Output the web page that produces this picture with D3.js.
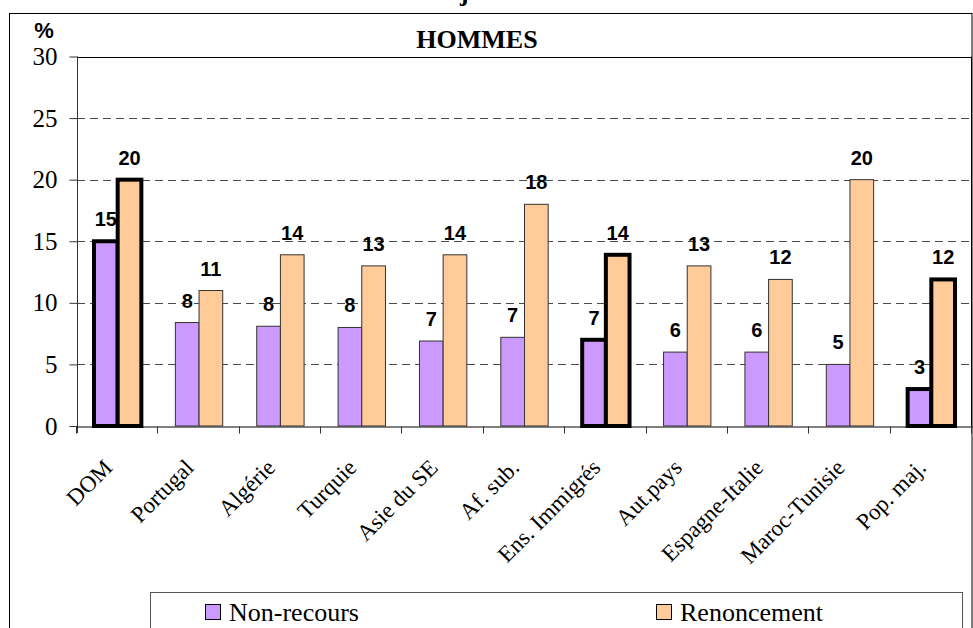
<!DOCTYPE html>
<html>
<head>
<meta charset="utf-8">
<script src="https://cdn.jsdelivr.net/npm/d3@7"></script>
<style>
  html, body { margin: 0; padding: 0; background: #fff; }
  svg { display: block; }
</style>
</head>
<body>
<svg id="chart" width="973" height="628"></svg>
<script>
const categories = ["DOM", "Portugal", "Algérie", "Turquie", "Asie du SE", "Af. sub.", "Ens. Immigrés", "Aut.pays", "Espagne-Italie", "Maroc-Tunisie", "Pop. maj."];
const nonRecours = [15, 8.4, 8.1, 8.0, 6.9, 7.2, 7.0, 6.0, 6.0, 5.0, 3.0];
const renoncement = [20, 11, 13.9, 13, 13.9, 18, 13.9, 13, 11.9, 20, 11.9];
const labelsNonRecours = ["15", "8", "8", "8", "7", "7", "7", "6", "6", "5", "3"];
const labelsRenoncement = ["20", "11", "14", "13", "14", "18", "14", "13", "12", "20", "12"];
const highlighted = ["DOM", "Ens. Immigrés", "Pop. maj."];
const yTicks = [0, 5, 10, 15, 20, 25, 30];
const seriesNames = ["Non-recours", "Renoncement"];
const seriesColors = ["#CC99FF", "#FFCC99"];
const chartTitle = "HOMMES";
const unitLabel = "%";

const SERIF = "'Liberation Serif', 'Times New Roman', serif";
const SANS = "'Liberation Sans', Arial, sans-serif";

const svg = d3.select("#chart");
const plot = { left: 77, right: 972, top: 56.5, bottom: 426 };

// fragment of a heading above the frame (only its descender is visible)
svg.append("text")
  .attr("x", 460).attr("y", 1)
  .style("font-family", SERIF)
  .attr("font-weight", "bold")
  .style("font-size", "26px")
  .text("j");

// outer frame
svg.append("rect")
  .attr("x", 9.5).attr("y", 13.5)
  .attr("width", 962.5).attr("height", 640)
  .attr("fill", "none").attr("stroke", "#000").attr("stroke-width", 1);

const x = d3.scaleBand().domain(categories).range([plot.left, plot.right]).padding(0);
const y = d3.scaleLinear().domain([0, 30]).range([plot.bottom, plot.top]);
const barW = x.bandwidth() * 0.291;
const inner = d3.scaleBand().domain(seriesNames).range([0, 2 * barW]);
const groupOffset = (x.bandwidth() - 2 * barW) / 2;

// gridlines
svg.append("g").selectAll("line")
  .data(yTicks.filter(t => t > 0 && t < 30))
  .join("line")
  .attr("x1", plot.left).attr("x2", plot.right)
  .attr("y1", d => Math.round(y(d)) + 0.5).attr("y2", d => Math.round(y(d)) + 0.5)
  .attr("stroke", "#4a4a4a").attr("stroke-width", 1)
  .attr("stroke-dasharray", "8,5");

// plot top and right border
svg.append("line")
  .attr("x1", plot.left).attr("x2", plot.right)
  .attr("y1", Math.round(y(30)) + 0.5).attr("y2", Math.round(y(30)) + 0.5)
  .attr("stroke", "#000");
svg.append("line")
  .attr("x1", plot.right - 0.5).attr("x2", plot.right - 0.5)
  .attr("y1", y(30)).attr("y2", y(0))
  .attr("stroke", "#000");

// y axis
const yAxis = d3.axisLeft(y).tickValues(yTicks).tickSize(8).tickPadding(12).tickFormat(d3.format("d"));
const gy = svg.append("g").attr("transform", `translate(${plot.left + 0.5},0)`).call(yAxis);
gy.attr("font-family", null).attr("font-size", null);
gy.select(".domain").attr("d", `M0,${y(30)}V${y(0) + 7}`).attr("stroke", "#333");
gy.selectAll(".tick line").attr("stroke", "#333");
gy.selectAll(".tick text")
  .style("font-family", SERIF)
  .style("font-size", "25px")
  .attr("fill", "#000");

// x axis
const xAxis = d3.axisBottom(x).tickSize(0).tickFormat("");
const gx = svg.append("g").attr("transform", `translate(0,${Math.round(plot.bottom) + 0.5})`).call(xAxis);
gx.select(".domain").attr("stroke", "#000");
gx.selectAll(".tick").remove();
const boundaries = categories.map(c => x(c)).concat([plot.right]);
gx.selectAll("line.bt").data(boundaries).join("line")
  .attr("class", "bt")
  .attr("x1", d => Math.round(d) - 0.5).attr("x2", d => Math.round(d) - 0.5)
  .attr("y1", 0).attr("y2", 7).attr("stroke", "#333");

// x labels
svg.append("g").selectAll("text")
  .data(categories)
  .join("text")
  .attr("transform", d => `translate(${x(d) + x.bandwidth() / 2 - 4},469) rotate(-45)`)
  .attr("text-anchor", "end")
  .style("font-family", SERIF)
  .style("font-size", "23px")
  .attr("fill", "#000")
  .text(d => d);

// bars
const rows = categories.map((c, i) => ({
  cat: c,
  vals: [nonRecours[i], renoncement[i]],
  labels: [labelsNonRecours[i], labelsRenoncement[i]],
  hl: highlighted.includes(c)
}));

const groups = svg.append("g").selectAll("g")
  .data(rows).join("g")
  .attr("transform", d => `translate(${x(d.cat) + groupOffset},0)`);

groups.selectAll("rect")
  .data(d => d.vals.map((v, j) => ({ v, j, hl: d.hl })))
  .join("rect")
  .attr("x", d => inner(seriesNames[d.j]))
  .attr("y", d => y(d.v))
  .attr("width", barW)
  .attr("height", d => y(0) - y(d.v))
  .attr("fill", d => seriesColors[d.j])
  .attr("stroke", d => d.hl ? "#000" : "#333")
  .attr("stroke-width", d => d.hl ? 4 : 1);

groups.selectAll("text")
  .data(d => d.vals.map((v, j) => ({ v, j, label: d.labels[j] })))
  .join("text")
  .attr("x", d => inner(seriesNames[d.j]) + barW / 2)
  .attr("y", d => y(d.v) - 15)
  .attr("text-anchor", "middle")
  .style("font-family", SANS)
  .attr("font-weight", "bold")
  .style("font-size", "20px")
  .attr("fill", "#000")
  .text(d => d.label);

// title and unit
svg.append("text")
  .attr("x", 477).attr("y", 48)
  .attr("text-anchor", "middle")
  .style("font-family", SERIF)
  .attr("font-weight", "bold")
  .style("font-size", "26px")
  .text(chartTitle);
svg.append("text")
  .attr("x", 44).attr("y", 38)
  .attr("text-anchor", "middle")
  .style("font-family", SANS)
  .attr("font-weight", "bold")
  .style("font-size", "22px")
  .text(unitLabel);

// legend
const legend = svg.append("g");
legend.append("rect")
  .attr("x", 150.5).attr("y", 592.5)
  .attr("width", 812).attr("height", 60)
  .attr("fill", "#fff").attr("stroke", "#555").attr("stroke-width", 1);
const legendX = [205, 656];
const items = legend.selectAll("g.item").data(seriesNames).join("g")
  .attr("class", "item")
  .attr("transform", (d, i) => `translate(${legendX[i]},0)`);
items.append("rect")
  .attr("x", 0.5).attr("y", 604.5)
  .attr("width", 15).attr("height", 15)
  .attr("fill", (d, i) => seriesColors[i])
  .attr("stroke", "#000");
items.append("text")
  .attr("x", 24).attr("y", 621)
  .style("font-family", SERIF)
  .style("font-size", "26px")
  .text(d => d);
</script>
</body>
</html>
